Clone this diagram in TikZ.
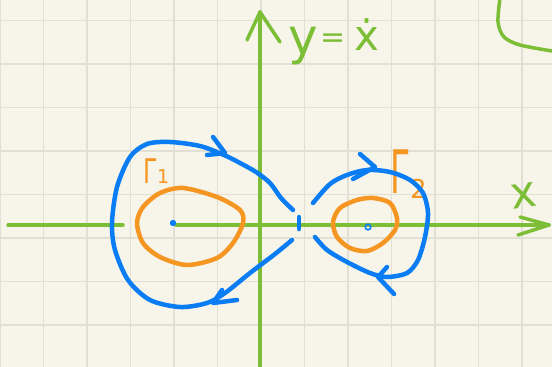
\documentclass[tikz,border=0pt]{standalone}
\usepackage{graphicx}
\usepackage{fontspec}
\newfontfamily\hand{DejaVu Sans}
\definecolor{paper}{RGB}{247,245,234}
\definecolor{gridc}{RGB}{226,224,213}
\definecolor{pengreen}{RGB}{125,190,55}
\definecolor{penblue}{RGB}{10,125,245}
\definecolor{penorange}{RGB}{245,150,35}
\tikzset{
  gridline/.style={gridc, line width=1.6pt},
  greenpen/.style={pengreen, line width=3.5pt, line cap=round, line join=round},
  bluepen/.style={penblue, line width=4.5pt, line cap=round, line join=round},
  orangepen/.style={penorange, line width=4.5pt, line cap=round, line join=round},
  lbl/.style={inner sep=0pt, outer sep=0pt, anchor=base west, font=\hand},
}
\begin{document}
\begin{tikzpicture}[x=1pt,y=-1pt]
\fill[paper] (0,0) rectangle (552,367);
\useasboundingbox (0,0) rectangle (552,367);
% grid
\foreach \i in {0,...,12} \draw[gridline] (\i*43.5,0) -- (\i*43.5,367);
\foreach \j in {0,...,7} \draw[gridline] (0,20.5+\j*43.5) -- (552,20.5+\j*43.5);
% axes
\coordinate (ytop) at (260,12);
\coordinate (ybot) at (260,367);
\draw[greenpen] (ytop) -- (ybot);
\draw[greenpen] (247,40) -- (ytop) -- (280,42);
\coordinate (xl1) at (8,225);
\coordinate (xl2) at (123,225);
\coordinate (xr1) at (176,225);
\coordinate (xtip) at (549,225);
\draw[greenpen] (xl1) -- (xl2);
\draw[greenpen] (xr1) -- (xtip);
\draw[greenpen] (520,217) -- (xtip) -- (518,235);
% top-right green curve
\draw[greenpen] plot[smooth] coordinates {(500,-2) (498,22) (504,37) (520,45) (552,51)};
% labels
\node[lbl, text=pengreen, font=\hand\fontsize{50}{50}\selectfont] (ylab) at (288,54) {y};
\node[lbl, text=pengreen, font=\hand\fontsize{30}{30}\selectfont] (eqlab) at (320,47) {=};
\node[lbl, text=pengreen, font=\hand\fontsize{42}{42}\selectfont] (xdot) at (354,50) {ẋ};
\node[lbl, text=pengreen, font=\hand\fontsize{44}{44}\selectfont, rotate=8] (xlab) at (512,209) {x};
% orange cycles
\draw[orangepen] plot[smooth cycle] coordinates {(137,223) (143,207) (160,193) (183,188) (217,197) (240,210) (243,223) (233,243) (217,258) (187,265) (160,257) (143,243)};
\draw[orangepen] plot[smooth cycle] coordinates {(333,222) (340,208) (357,200) (373,198) (390,203) (397,218) (395,230) (383,243) (367,251) (350,248) (337,237)};
\node[lbl, text=penorange] (g1) at (143,183) {\scalebox{0.7}[1]{\fontsize{34}{34}\selectfont Γ}};
\node[lbl, text=penorange, font=\hand\fontsize{19}{19}\selectfont] (g1s) at (157,183) {1};
\node[lbl, text=penorange] (g2) at (390,193) {\scalebox{0.55}[1]{\fontsize{60}{60}\selectfont Γ}};
\node[lbl, text=penorange, font=\hand\fontsize{26}{26}\selectfont] (g2s) at (410,198) {2};
% blue equilibria
\fill[penblue] (173,223) circle (3.2);
\draw[penblue, line width=1.6pt] (368,227) circle (2.8);
\draw[bluepen] (299,217) -- (299,229);
% blue left loop
\draw[bluepen] plot[smooth] coordinates {(293,210) (281,198) (270,183) (256,172) (240,163) (224,155) (200,146) (170,142) (147,144) (130,157) (117,187) (112,223) (115,250) (128,280) (150,300) (180,307) (207,303) (225,293) (250,273) (275,254) (292,240)};
\draw[bluepen] (213,137) -- (225,153) -- (207,155);
\draw[bluepen] (222,290) -- (213,303) -- (237,300);
% blue right loop
\draw[bluepen] plot[smooth] coordinates {(313,203) (330,184) (347,175) (367,170) (390,172) (410,180) (423,193) (428,213) (425,237) (418,260) (407,273) (387,277) (370,273) (347,262) (327,250) (315,237)};
\draw[bluepen] (360,154) -- (375,167) -- (353,179);
\draw[bluepen] (387,267) -- (378,277) -- (394,294);
\end{tikzpicture}
\end{document}
